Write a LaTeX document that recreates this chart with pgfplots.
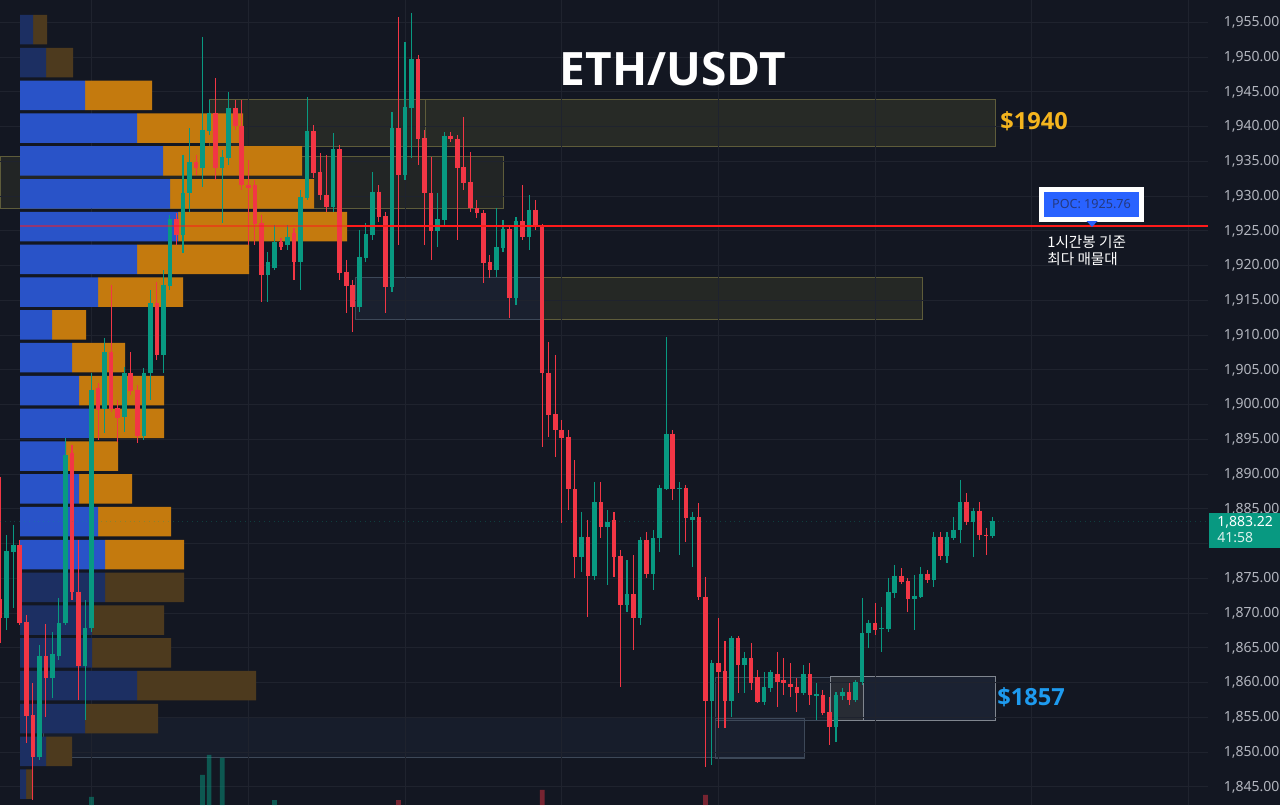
\documentclass[border=0pt]{standalone}
\usepackage{pgfplots}
\pgfplotsset{compat=1.18}
\usepackage{pgfplotstable}
\usepackage{fontspec}
\setmainfont{Noto Sans}
\newfontfamily\titlefont{Open Sans}
\newfontfamily\cjk{Noto Sans CJK KR}
\definecolor{bg}{HTML}{131722}
\definecolor{gridc}{HTML}{1F232E}
\definecolor{upc}{HTML}{089981}
\definecolor{dnc}{HTML}{F23645}
\definecolor{pblue}{HTML}{2953C8}
\definecolor{porange}{HTML}{C47A0E}
\definecolor{pbluedim}{HTML}{1C2F62}
\definecolor{porangedim}{HTML}{4D3A1E}
\definecolor{ticktext}{HTML}{B2B5BE}
\definecolor{zy}{HTML}{8C8A3C}
\definecolor{zyb}{HTML}{5E5C3A}
\definecolor{zb}{HTML}{3A4B6E}
\definecolor{zbb}{HTML}{3D4858}
\definecolor{zgb}{HTML}{80868F}
\definecolor{poc}{HTML}{FF1A1A}
\definecolor{pocblue}{HTML}{2962FF}
\definecolor{poctext}{HTML}{24397F}
\definecolor{gold}{HTML}{F5B51E}
\definecolor{sky}{HTML}{1E9BEF}

\pgfplotsset{
  base/.style={width=604pt, height=402.5pt, scale only axis, at={(0,0)}, anchor=south west,
    ymin=1842.39, ymax=1958.22},
}

\pgfplotstableread{
p bb bo dbl dor
1953.94 0 0 13 14
1949.22 0 0 26 27
1944.50 65 67 0 0
1939.78 117 106 0 0
1935.06 143 139 0 0
1930.34 150 144 0 0
1925.62 158 169 0 0
1920.90 117 112 0 0
1916.18 78 85 0 0
1911.47 32 34 0 0
1906.75 52 53 0 0
1902.03 59 85 0 0
1897.31 72 72 0 0
1892.59 46 52 0 0
1887.87 59 53 0 0
1883.15 78 73 0 0
1878.43 85 79 0 0
1873.71 0 0 85 79
1868.99 0 0 72 72
1864.27 0 0 72 79
1859.55 0 0 117 119
1854.83 0 0 65 73
1850.11 0 0 26 26
1845.39 0 0 6 7
}\profile

\pgfplotstableread{
i o h l c
0 1871.89 1889.59 1865.70 1869.30
1 1869.30 1881.24 1867.57 1878.94
2 1878.80 1882.68 1870.74 1879.80
3 1879.80 1880.52 1868.29 1868.58
4 1868.72 1869.73 1851.31 1855.20
5 1855.34 1859.95 1843.11 1849.30
6 1849.30 1865.41 1848.87 1863.83
7 1863.83 1868.44 1855.05 1860.67
8 1860.67 1867.28 1857.79 1863.98
9 1863.83 1872.18 1863.26 1868.58
10 1868.58 1895.20 1868.29 1892.75
11 1893.04 1894.19 1871.89 1873.04
12 1873.04 1880.52 1857.50 1862.39
13 1862.39 1871.89 1854.62 1867.86
14 1867.86 1904.55 1867.28 1902.10
15 1902.39 1903.11 1894.91 1899.23
16 1899.51 1909.59 1895.92 1907.43
17 1907.43 1917.21 1898.94 1899.51
18 1899.51 1900.67 1894.62 1898.08
19 1898.22 1905.41 1896.06 1904.55
20 1904.55 1907.57 1901.39 1902.10
21 1902.10 1902.82 1894.48 1895.49
22 1895.49 1905.27 1894.91 1904.55
23 1904.55 1916.49 1900.67 1914.62
24 1914.62 1917.64 1906.42 1907.14
25 1907.14 1919.37 1904.55 1917.21
26 1917.21 1927.28 1916.49 1926.57
27 1926.57 1927.57 1922.97 1924.41
28 1924.41 1935.92 1921.82 1930.45
29 1930.45 1939.80 1927.72 1934.77
30 1934.77 1935.92 1933.04 1934.05
31 1934.05 1952.90 1931.31 1939.51
32 1939.51 1943.83 1938.80 1941.96
33 1941.96 1947.00 1932.32 1934.05
34 1934.05 1936.64 1926.13 1935.49
35 1935.49 1944.98 1934.48 1942.68
36 1942.68 1943.83 1939.51 1940.09
37 1940.09 1943.83 1930.88 1931.60
38 1931.60 1935.20 1922.97 1931.17
39 1931.60 1932.32 1922.97 1926.13
40 1926.13 1927.28 1914.77 1918.65
41 1918.65 1921.96 1914.77 1920.52
42 1919.80 1925.85 1919.37 1923.26
43 1923.26 1923.98 1922.25 1922.82
44 1922.97 1925.85 1922.25 1924.12
45 1924.69 1925.41 1917.93 1920.52
46 1920.52 1930.88 1916.49 1929.87
47 1929.87 1944.26 1929.44 1939.23
48 1939.23 1940.23 1932.61 1933.33
49 1933.47 1936.21 1929.44 1930.16
50 1930.16 1935.92 1927.72 1928.44
51 1928.44 1939.08 1927.72 1936.64
52 1936.64 1937.36 1917.93 1919.08
53 1919.08 1920.81 1913.18 1917.21
54 1917.21 1917.93 1910.45 1914.05
55 1914.05 1925.13 1913.33 1921.10
56 1921.10 1926.13 1920.52 1924.41
57 1924.41 1933.47 1923.69 1930.59
58 1930.59 1931.60 1926.28 1927.00
59 1927.00 1927.72 1913.18 1916.93
60 1916.93 1942.10 1916.21 1939.80
61 1939.80 1955.77 1922.97 1933.04
62 1933.04 1952.18 1932.32 1942.82
63 1942.82 1956.35 1935.49 1949.73
64 1949.73 1950.31 1934.48 1938.36
65 1938.36 1939.51 1922.97 1930.45
66 1930.45 1935.63 1920.81 1924.98
67 1924.98 1930.45 1922.68 1926.57
68 1926.57 1939.23 1925.85 1938.65
69 1938.65 1939.23 1937.79 1938.22
70 1938.22 1938.80 1923.69 1934.05
71 1934.05 1941.39 1930.88 1932.03
72 1932.03 1936.35 1927.72 1928.29
73 1928.29 1929.44 1926.85 1927.57
74 1927.57 1928.00 1917.50 1920.38
75 1920.38 1921.53 1918.22 1919.51
76 1919.51 1928.29 1918.36 1922.54
77 1922.54 1926.57 1921.96 1925.13
78 1925.13 1925.85 1912.46 1915.34
79 1915.34 1927.00 1914.34 1926.28
80 1926.28 1931.60 1923.69 1924.12
81 1924.12 1930.16 1922.25 1928.00
82 1928.00 1929.44 1925.13 1925.56
83 1925.56 1925.99 1893.90 1904.55
84 1904.55 1909.01 1895.34 1898.51
85 1898.51 1907.14 1892.47 1896.35
86 1896.35 1897.79 1882.97 1895.20
87 1895.20 1896.35 1884.84 1887.86
88 1887.72 1892.03 1875.05 1878.08
89 1878.08 1884.55 1875.92 1880.95
90 1880.95 1883.40 1869.44 1875.34
91 1875.34 1888.87 1874.77 1885.85
92 1885.85 1888.87 1880.81 1882.39
93 1882.39 1884.84 1874.05 1883.11
94 1883.26 1884.55 1875.20 1878.08
95 1878.08 1879.08 1859.37 1871.17
96 1871.17 1877.64 1870.16 1872.61
97 1872.61 1878.36 1864.69 1869.30
98 1869.30 1880.95 1868.29 1880.52
99 1880.52 1881.67 1875.05 1875.77
100 1875.77 1881.96 1873.33 1880.81
101 1880.81 1888.44 1878.80 1888.00
102 1888.00 1909.73 1887.72 1895.77
103 1895.77 1896.35 1886.28 1887.86
104 1887.86 1888.87 1878.36 1888.00
105 1888.00 1888.44 1880.23 1883.69
106 1883.54 1884.55 1876.64 1883.69
107 1883.69 1885.85 1871.89 1872.32
108 1872.32 1875.20 1847.86 1857.36
109 1857.36 1863.26 1848.15 1862.82
110 1862.82 1869.30 1853.47 1861.53
111 1861.53 1865.99 1853.47 1857.36
112 1857.36 1866.71 1855.05 1866.42
113 1866.42 1866.71 1858.51 1862.54
114 1862.54 1864.41 1858.51 1863.54
115 1863.54 1865.70 1858.94 1859.95
116 1860.81 1861.82 1857.07 1857.21
117 1857.21 1861.53 1856.78 1859.23
118 1859.23 1861.82 1858.65 1861.39
119 1861.10 1864.41 1856.49 1860.09
120 1860.24 1863.54 1858.22 1859.95
121 1859.80 1862.82 1857.93 1859.37
122 1859.23 1860.67 1855.77 1858.51
123 1858.51 1862.54 1858.22 1861.10
124 1861.10 1862.82 1856.78 1858.22
125 1858.08 1859.95 1854.62 1858.36
126 1858.22 1858.94 1855.34 1855.77
127 1855.77 1857.93 1851.03 1853.62
128 1853.62 1858.65 1851.46 1858.22
129 1858.08 1859.23 1857.50 1858.51
130 1858.51 1859.95 1856.78 1857.50
131 1857.50 1860.38 1857.21 1860.09
132 1860.09 1872.18 1859.66 1867.14
133 1867.14 1869.01 1864.98 1868.58
134 1868.58 1871.46 1866.85 1867.57
135 1867.72 1870.88 1864.41 1867.86
136 1867.72 1875.05 1867.28 1872.90
137 1872.90 1876.93 1872.18 1875.34
138 1875.34 1876.49 1874.19 1874.48
139 1874.48 1875.05 1870.16 1872.03
140 1872.03 1875.49 1867.57 1872.46
141 1872.46 1876.64 1872.18 1875.63
142 1875.63 1876.21 1874.34 1874.77
143 1874.77 1881.67 1873.76 1880.95
144 1880.95 1881.67 1877.64 1878.36
145 1878.36 1881.67 1877.21 1880.95
146 1880.81 1883.83 1880.52 1881.96
147 1881.96 1889.16 1880.09 1885.99
148 1885.99 1887.28 1882.68 1883.11
149 1883.11 1885.13 1878.08 1884.69
150 1884.69 1885.99 1880.52 1881.24
151 1881.24 1882.25 1878.36 1881.10
152 1881.10 1883.83 1880.81 1883.22
}\candles

\begin{document}
\begin{tikzpicture}
\fill[bg] (0,0) rectangle (640pt,402.5pt);

% ---- axis 1: zones (behind the profile and the candles)
\begin{axis}[base, xmin=0, xmax=1208, hide axis]
\addplot[fill=zy, fill opacity=0.16, draw=zyb, line width=0.5pt] coordinates {(209,1937.21) (425,1937.21) (425,1943.93) (209,1943.93)} -- cycle;
\addplot[fill=zy, fill opacity=0.17, draw=zyb, line width=0.5pt] coordinates {(425,1937.21) (995,1937.21) (995,1943.93) (425,1943.93)} -- cycle;
\addplot[fill=zy, fill opacity=0.13, draw=zyb, line width=0.5pt] coordinates {(0,1928.29) (503,1928.29) (503,1935.77) (0,1935.77)} -- cycle;
\addplot[fill=zb, fill opacity=0.18, draw=zbb, line width=0.5pt] coordinates {(355,1912.18) (543,1912.18) (543,1918.36) (355,1918.36)} -- cycle;
\addplot[fill=zy, fill opacity=0.15, draw=zyb, line width=0.5pt] coordinates {(543,1912.18) (922,1912.18) (922,1918.36) (543,1918.36)} -- cycle;
\addplot[fill=zb, fill opacity=0.12, draw=zbb, line width=0.5pt] coordinates {(43,1849.16) (804,1849.16) (804,1854.91) (43,1854.91)} -- cycle;
\addplot[fill=zb, fill opacity=0.06, draw=zbb, line width=0.4pt] coordinates {(715,1849.16) (804,1849.16) (804,1854.91) (715,1854.91)} -- cycle;
\addplot[fill=zb, fill opacity=0.1, draw=zbb, line width=0.4pt] coordinates {(715,1854.62) (830,1854.62) (830,1860.81) (715,1860.81)} -- cycle;
\addplot[fill=gray, fill opacity=0.2, draw=zgb, line width=0.4pt] coordinates {(830,1854.62) (863,1854.62) (863,1860.96) (830,1860.96)} -- cycle;
\addplot[fill=zb, fill opacity=0.22, draw=zgb, line width=0.4pt] coordinates {(863,1854.62) (995,1854.62) (995,1860.96) (863,1860.96)} -- cycle;
\end{axis}

% ---- axis 2: grid, volume profile, price scale
\begin{axis}[base, xmin=-20, xmax=1188,
  xbar stacked, bar width=4.245,
  axis line style={draw=none},
  major tick length=0pt,
  ytick={1845,1850,...,1875,1885,1890,...,1955},
  extra y ticks={1880}, extra y tick labels={},
  xtick={71.6,228.3,385,541.7,698.4,855.1,1011.8,1168.5},
  xticklabels={},
  grid=major, grid style={gridc, line width=0.5pt},
  yticklabel pos=right,
  yticklabel style={font=\fontsize{7}{8}\selectfont, text=ticktext, anchor=west, xshift=4.4pt,
     /pgf/number format/.cd, fixed, fixed zerofill, precision=2, 1000 sep={,}, assume math mode=true},
]
\addplot[fill=pblue, draw=none] table[x=bb, y=p] {\profile};
\addplot[fill=porange, draw=none] table[x=bo, y=p] {\profile};
\addplot[fill=pbluedim, draw=none] table[x=dbl, y=p] {\profile};
\addplot[fill=porangedim, draw=none] table[x=dor, y=p] {\profile};
\end{axis}

% ---- axis 3: candles
\begin{axis}[base, xmin=-0.026, xmax=184.97, hide axis]
\addplot[ybar, bar width=0.72, bar shift=0pt, fill=upc, fill opacity=0.5, draw=none]
  coordinates {(14,1843.55) (31,1846.71) (32,1849.59) (34,1849.16) (42,1843.11)};
\addplot[ybar, bar width=0.72, bar shift=0pt, fill=dnc, fill opacity=0.45, draw=none]
  coordinates {(61,1843.11) (83,1844.55) (108,1843.83)};
% wicks
\addplot[draw=none, mark=none,
  restrict expr to domain={\thisrow{c}-\thisrow{o}}{0:1000},
  error bars/.cd, y dir=minus, y explicit, error mark=none,
  error bar style={draw=upc, line width=0.55pt}]
  table[x=i, y=h, y error minus expr=\thisrow{h}-\thisrow{l}] {\candles};
\addplot[draw=none, mark=none,
  restrict expr to domain={\thisrow{c}-\thisrow{o}}{-1000:0},
  error bars/.cd, y dir=minus, y explicit, error mark=none,
  error bar style={draw=dnc, line width=0.55pt}]
  table[x=i, y=h, y error minus expr=\thisrow{h}-\thisrow{l}] {\candles};
% bodies
\addplot[draw=none, mark=none,
  restrict expr to domain={\thisrow{c}-\thisrow{o}}{0:1000},
  error bars/.cd, y dir=minus, y explicit, error mark=none,
  error bar style={draw=upc, line width=2.3pt}]
  table[x=i, y expr={max(\thisrow{o},\thisrow{c})+0.07}, y error minus expr={abs(\thisrow{c}-\thisrow{o})+0.14}] {\candles};
\addplot[draw=none, mark=none,
  restrict expr to domain={\thisrow{c}-\thisrow{o}}{-1000:0},
  error bars/.cd, y dir=minus, y explicit, error mark=none,
  error bar style={draw=dnc, line width=2.3pt}]
  table[x=i, y expr={max(\thisrow{o},\thisrow{c})+0.07}, y error minus expr={abs(\thisrow{c}-\thisrow{o})+0.14}] {\candles};
\end{axis}

% ---- axis 4: annotations
\begin{axis}[base, xmin=0, xmax=1208, hide axis, clip=false]
\addplot[upc, dotted, line width=0.4pt, opacity=0.3] coordinates {(0,1883.22) (1208,1883.22)};
\addplot[poc, line width=1pt, opacity=0.5] coordinates {(20,1925.76) (347,1925.76)};
\addplot[poc, line width=1pt] coordinates {(347,1925.76) (1208,1925.76)};
\node[text=white, font=\titlefont\fontsize{23}{26}\selectfont\bfseries] at (axis cs:673,1948.29) {ETH/USDT};
\node[anchor=west, inner sep=0pt, text=gold, font=\titlefont\fontsize{11.8}{13}\selectfont\bfseries] at (axis cs:1000,1940.81) {\$1940};
\node[anchor=west, inner sep=0pt, text=sky, font=\titlefont\fontsize{11.8}{13}\selectfont\bfseries] at (axis cs:997,1857.93) {\$1857};
\addplot[fill=white, draw=none] coordinates {(1039,1926.24) (1144,1926.24) (1144,1931.36) (1039,1931.36)} -- cycle;
\addplot[fill=pocblue, draw=none] coordinates {(1044,1926.95) (1139,1926.95) (1139,1930.64) (1044,1930.64)} -- cycle;
\addplot[fill=pocblue, draw=none] coordinates {(1086.5,1926.42) (1097.5,1926.42) (1092,1925.56)} -- cycle;
\node[text=poctext, font=\fontsize{6.3}{7}\selectfont] at (axis cs:1091.5,1928.80) {POC: 1925.76};
\node[anchor=west, inner sep=0pt, text=white, font=\cjk\fontsize{7.3}{9}\selectfont] at (axis cs:1047,1923.44) {1시간봉 기준};
\node[anchor=west, inner sep=0pt, text=white, font=\cjk\fontsize{7.3}{9}\selectfont] at (axis cs:1047,1920.91) {최다 매물대};
\addplot[fill=upc, draw=none] coordinates {(1209,1879.37) (1280,1879.37) (1280,1884.41) (1209,1884.41)} -- cycle;
\node[anchor=west, inner sep=0pt, text=white, font=\fontsize{7}{8}\selectfont] at (axis cs:1217,1883.01) {1,883.22};
\node[anchor=west, inner sep=0pt, text=white!85!upc, font=\fontsize{7}{8}\selectfont] at (axis cs:1217,1880.81) {41:58};
\end{axis}

\pgfresetboundingbox
\path (0,0) rectangle (640pt,402.5pt);
\end{tikzpicture}
\end{document}
